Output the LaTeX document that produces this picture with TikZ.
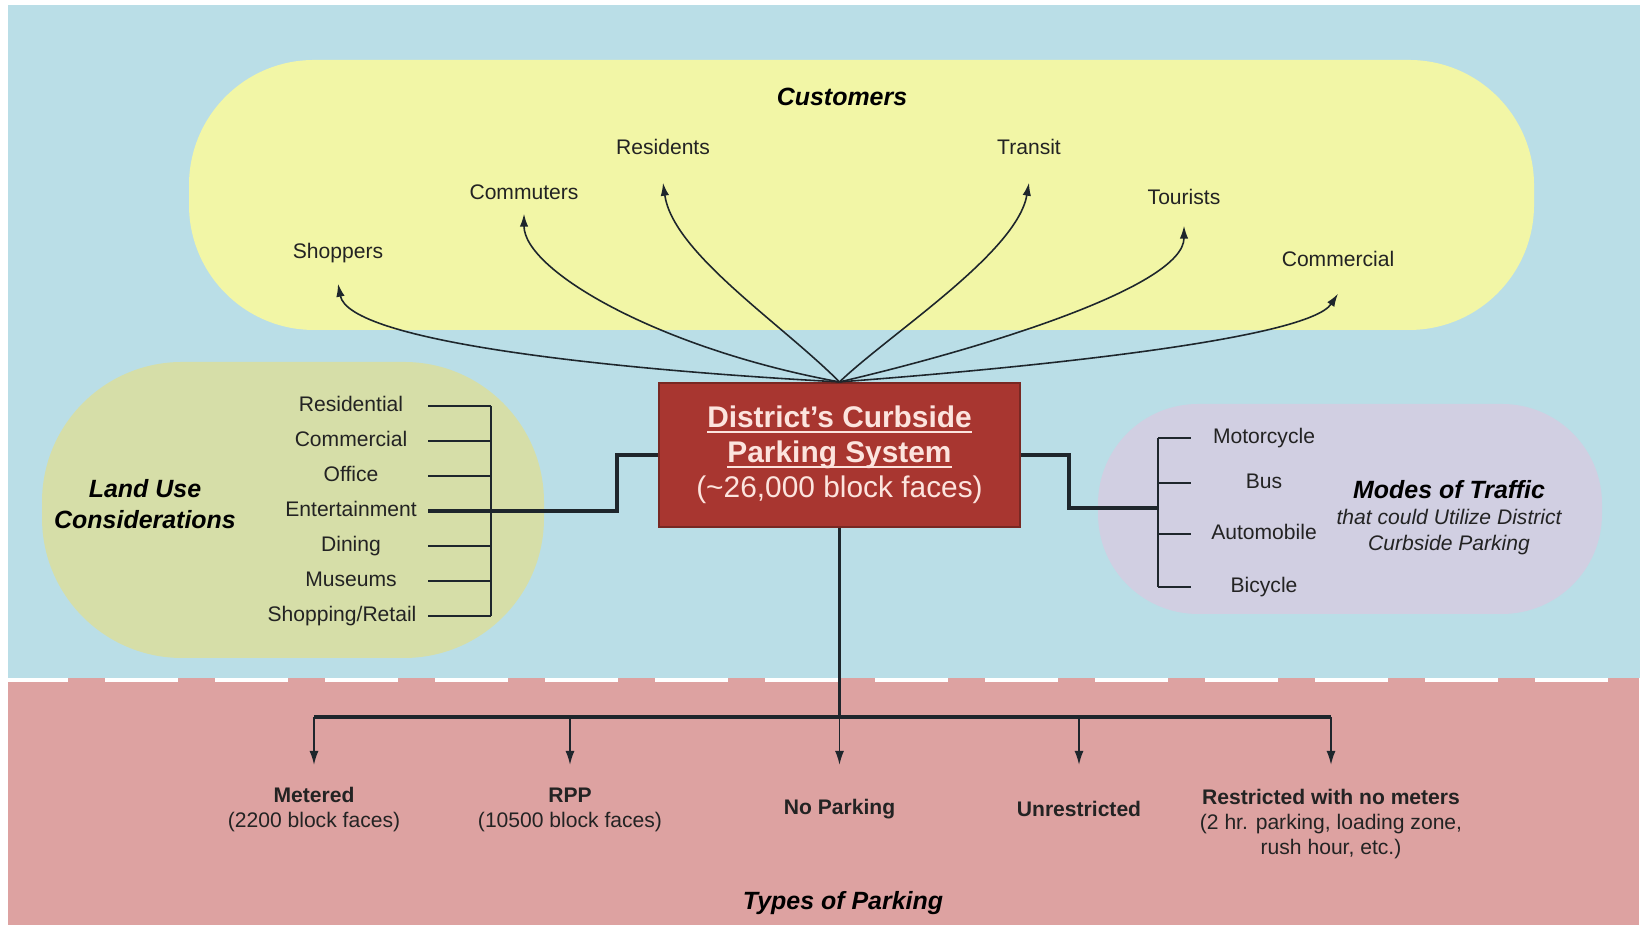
\documentclass[tikz,border=0pt]{standalone}
\usepackage{fontspec}
\setmainfont{Liberation Sans}
\usetikzlibrary{arrows.meta}

\definecolor{skyblue}{RGB}{186,222,231}
\definecolor{parkpink}{RGB}{221,162,161}
\definecolor{custyellow}{RGB}{242,246,166}
\definecolor{landgreen}{RGB}{214,222,168}
\definecolor{modelilac}{RGB}{209,207,226}
\definecolor{boxred}{RGB}{168,54,48}
\definecolor{boxedge}{RGB}{120,40,35}
\definecolor{boxtext}{RGB}{252,228,222}
\definecolor{linegray}{RGB}{30,38,44}
\definecolor{labelgray}{RGB}{35,35,35}

\def\boxline#1{\vphantom{D}\underline{\smash{\bfseries #1}}}

\tikzset{
	item/.style={font=\fontsize{6}{7.1}\selectfont, text=labelgray, inner sep=1pt, text height=4.4pt, text depth=1.3pt},
	typelabel/.style={font=\fontsize{6}{7.1}\selectfont, text=labelgray, inner sep=1pt, align=center},
	heading/.style={font=\fontsize{7.1}{8.8}\selectfont\bfseries\itshape, text=black, align=center, inner sep=1pt},
	subheading/.style={font=\fontsize{6}{7.4}\selectfont\itshape, text=labelgray, align=center, inner sep=1pt},
	hub/.style={fill=boxred, draw=boxedge, line width=0.6pt, text=boxtext, font=\fontsize{8.5}{10}\selectfont, align=center, minimum width=3.61cm, minimum height=1.44cm, inner sep=0pt},
	curve/.style={line width=0.45pt, draw=linegray, -{Latex[length=1.3mm,width=0.85mm]}},
	link/.style={line width=0.9pt, draw=linegray},
	tickline/.style={line width=0.6pt, draw=linegray},
	drop/.style={line width=0.5pt, draw=linegray, -{Latex[length=1.4mm,width=0.9mm]}}
}

\begin{document}
\begin{tikzpicture}
	%%%%% BACKGROUND %%%%%
	\useasboundingbox (0,0) rectangle (16.46,9.25);
	\fill[white] (0,0) rectangle (16.46,9.25);
	\fill[skyblue] (0.08,2.47) rectangle (16.40,9.20);
	\fill[parkpink] (0.08,0) rectangle (16.39,2.47);
	\draw[white, line width=1pt, dash pattern=on 0.73cm off 0.37cm, dash phase=0.13cm] (0.08,2.45) -- (16.40,2.45);
	
	\fill[custyellow, rounded corners=1.25cm] (1.89,5.95) rectangle (15.34,8.65);
	\fill[landgreen, rounded corners=1.4cm] (0.42,2.67) rectangle (5.44,5.63);
	\fill[modelilac, rounded corners=1.0cm] (10.98,3.11) rectangle (16.02,5.21);
	
	%%%%% CENTRE BOX %%%%%
	\node[hub] (system) at (8.395,4.70) {\boxline{District's Curbside}\\\boxline{Parking System}\\(\textasciitilde26,000 block faces)};
	
	%%%%% CUSTOMERS %%%%%
	\node[heading] (customers) at (8.42,8.28) {Customers};
	\node[item] (shoppers) at (3.38,6.72) {Shoppers};
	\node[item] (commuters) at (5.24,7.31) {Commuters};
	\node[item] (residents) at (6.63,7.76) {Residents};
	\node[item] (transit) at (10.29,7.76) {Transit};
	\node[item] (tourists) at (11.84,7.26) {Tourists};
	\node[item] (commercial) at (13.38,6.64) {Commercial};
	
	\draw[curve] (system.north) .. controls +(-2.40,0.13) and +(0.11,-0.57) .. ([yshift=-1.65mm]shoppers.south);
	\draw[curve] (system.north) .. controls +(-1.80,0.33) and +(0,-0.57) .. ([yshift=-0.55mm]commuters.south);
	\draw[curve] (system.north) .. controls +(-0.60,0.60) and +(0.10,-0.70) .. ([yshift=-1.95mm]residents.south);
	\draw[curve] (system.north) .. controls +(0.50,0.48) and +(-0.12,-0.70) .. ([yshift=-1.95mm]transit.south);
	\draw[curve] (system.north) .. controls +(1.50,0.35) and +(0,-0.60) .. ([yshift=-1.25mm]tourists.south);
	\draw[curve] (system.north) .. controls +(2.00,0.15) and +(-0.30,-0.45) .. ([yshift=-1.85mm]commercial.south);
	
	%%%%% LAND USE %%%%%
	\node[heading] (landuse) at (1.45,4.205) {Land Use\\Considerations};
	\coordinate (luleft) at (4.28,0);
	\coordinate (lubar) at (4.91,0);
	\foreach \use [count=\i from 0] in {Residential,Commercial,Office,Entertainment,Dining,Museums} {
		\node[item] (use\i) at (3.51,5.19-0.35*\i) {\use};
		\draw[tickline] (luleft |- use\i) -- (lubar |- use\i);
	}
	\node[item] (use6) at (3.42,3.09) {Shopping/Retail};
	\draw[tickline] (luleft |- use6) -- (lubar |- use6);
	\draw[tickline] (lubar |- use0) -- (lubar |- use6);
	\draw[link] (system.west) -- ++(-0.41,0) |- (luleft |- use3);
	
	%%%%% MODES OF TRAFFIC %%%%%
	\node[item] (motorcycle) at (12.64,4.87) {Motorcycle};
	\node[item] (bus) at (12.64,4.42) {Bus};
	\node[item] (automobile) at (12.64,3.91) {Automobile};
	\node[item] (bicycle) at (12.64,3.38) {Bicycle};
	\coordinate (mobar) at (11.58,4.17);
	\coordinate (moright) at (11.91,0);
	\foreach \mode in {motorcycle,bus,automobile,bicycle}
		\draw[tickline] (mobar |- \mode) -- (moright |- \mode);
	\draw[tickline] (mobar |- motorcycle) -- (mobar |- bicycle);
	\draw[link] (system.east) -- ++(0.48,0) |- (mobar);
	
	\node[heading] (modes) at (14.49,4.35) {Modes of Traffic};
	\node[subheading] (modesnote) at (14.49,3.93) {that could Utilize District\\Curbside Parking};
	
	%%%%% TYPES OF PARKING %%%%%
	\node[typelabel] (metered) at (3.14,1.155) {\textbf{Metered}\\(2200 block faces)};
	\node[typelabel] (rpp) at (5.70,1.155) {\textbf{RPP}\\(10500 block faces)};
	\node[typelabel] (noparking) at (8.395,1.16) {\textbf{No Parking}};
	\node[typelabel] (unrestricted) at (10.79,1.16) {\textbf{Unrestricted}};
	\node[typelabel] (restricted) at (13.31,1.01) {\textbf{Restricted with no meters}\\(2 hr. parking, loading zone,\\rush hour, etc.)};
	
	\coordinate (barline) at (0,2.08);
	\coordinate (tipline) at (0,1.60);
	\draw[link] (system.south) -- (system.south |- barline);
	\draw[link] (metered |- barline) -- (restricted |- barline);
	\foreach \kind in {metered,rpp,noparking,unrestricted,restricted}
		\draw[drop] (\kind |- barline) -- (\kind |- tipline);
	
	\node[heading] (types) at (8.43,0.22) {Types of Parking};
\end{tikzpicture}
\end{document}
